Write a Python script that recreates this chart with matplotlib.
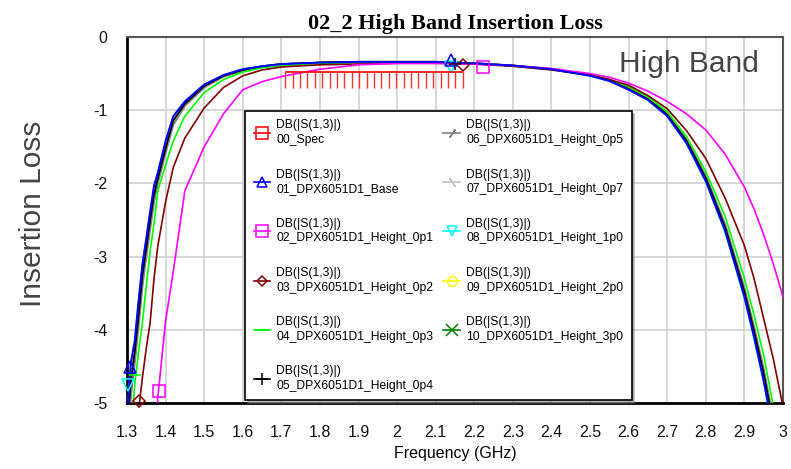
import matplotlib
matplotlib.use('Agg')
import matplotlib.pyplot as plt
from matplotlib.lines import Line2D
import numpy as np

# Frequency grid (GHz)
freq = [1.30, 1.31, 1.32, 1.33, 1.34, 1.35, 1.36, 1.37, 1.38, 1.40, 1.42, 1.45,
        1.50, 1.55, 1.60, 1.65, 1.70, 1.80, 1.90, 2.00, 2.10, 2.20, 2.30, 2.40,
        2.50, 2.55, 2.60, 2.65, 2.70, 2.75, 2.80, 2.85, 2.90, 2.925, 2.95, 2.975, 3.00]

# DB(|S(1,3)|) traces
ins_base = [-5.15, -4.45, -4.15, -3.60, -3.10, -2.75, -2.38, -2.03, -1.85, -1.42, -1.08, -0.88,
            -0.65, -0.52, -0.44, -0.40, -0.37, -0.35, -0.34, -0.34, -0.34, -0.36, -0.39, -0.44,
            -0.53, -0.60, -0.72, -0.86, -1.08, -1.45, -1.97, -2.65, -3.55, -4.10, -4.70, -5.40, -6.20]
ins_0p1 = [-9.0, -8.5, -8.0, -7.5, -7.0, -6.5, -6.0, -5.5, -4.92, -3.88, -3.20, -2.10,
           -1.50, -1.05, -0.72, -0.61, -0.54, -0.44, -0.38, -0.36, -0.36, -0.37, -0.39, -0.43,
           -0.50, -0.55, -0.63, -0.74, -0.88, -1.05, -1.27, -1.60, -2.05, -2.35, -2.70, -3.10, -3.55]
ins_0p2 = [-7.5, -6.8, -5.9, -5.1, -4.65, -4.25, -3.90, -3.30, -2.85, -2.25, -1.78, -1.38,
           -0.97, -0.69, -0.53, -0.45, -0.41, -0.38, -0.37, -0.36, -0.36, -0.37, -0.40, -0.45,
           -0.52, -0.58, -0.66, -0.80, -0.98, -1.28, -1.66, -2.20, -2.85, -3.30, -3.85, -4.40, -5.05]
ins_0p3 = [-6.0, -5.4, -4.75, -4.30, -3.90, -3.40, -2.92, -2.55, -2.10, -1.75, -1.42, -1.08,
           -0.76, -0.58, -0.48, -0.42, -0.39, -0.36, -0.35, -0.35, -0.35, -0.36, -0.39, -0.44,
           -0.52, -0.58, -0.68, -0.82, -1.02, -1.36, -1.84, -2.45, -3.30, -3.80, -4.35, -5.05, -5.80]
ins_0p4 = [-5.40, -4.70, -4.30, -3.80, -3.25, -2.88, -2.50, -2.15, -1.93, -1.52, -1.14, -0.91,
           -0.67, -0.53, -0.45, -0.40, -0.37, -0.35, -0.34, -0.34, -0.34, -0.36, -0.39, -0.44,
           -0.52, -0.59, -0.71, -0.85, -1.06, -1.42, -1.93, -2.60, -3.48, -4.02, -4.60, -5.30, -6.10]
ins_0p5 = [-5.60, -4.90, -4.45, -3.95, -3.40, -3.00, -2.62, -2.25, -2.00, -1.58, -1.20, -0.94,
           -0.69, -0.54, -0.46, -0.41, -0.38, -0.35, -0.34, -0.34, -0.34, -0.36, -0.39, -0.44,
           -0.52, -0.59, -0.70, -0.84, -1.05, -1.40, -1.90, -2.56, -3.43, -3.96, -4.54, -5.22, -6.00]
ins_0p7 = [-5.25, -4.55, -4.20, -3.70, -3.17, -2.80, -2.43, -2.08, -1.88, -1.48, -1.10, -0.89,
           -0.66, -0.52, -0.44, -0.40, -0.37, -0.35, -0.34, -0.34, -0.34, -0.36, -0.39, -0.44,
           -0.52, -0.60, -0.72, -0.86, -1.07, -1.44, -1.95, -2.63, -3.52, -4.06, -4.65, -5.35, -6.15]
ins_1p0 = [-5.20, -4.50, -4.18, -3.62, -3.12, -2.77, -2.40, -2.05, -1.86, -1.46, -1.09, -0.88,
           -0.65, -0.52, -0.44, -0.40, -0.37, -0.35, -0.34, -0.34, -0.34, -0.36, -0.39, -0.44,
           -0.53, -0.60, -0.72, -0.86, -1.08, -1.46, -1.98, -2.66, -3.57, -4.12, -4.72, -5.42, -6.22]
# 2p0 and 3p0 sit underneath the 0p4 trace
ins_2p0 = [-5.40, -4.70, -4.30, -3.80, -3.25, -2.88, -2.50, -2.15, -1.93, -1.52, -1.14, -0.91,
           -0.67, -0.53, -0.45, -0.40, -0.37, -0.35, -0.34, -0.34, -0.34, -0.36, -0.39, -0.44,
           -0.52, -0.59, -0.71, -0.85, -1.06, -1.42, -1.93, -2.60, -3.48, -4.02, -4.60, -5.30, -6.10]
ins_3p0 = [-5.40, -4.70, -4.30, -3.80, -3.25, -2.88, -2.50, -2.15, -1.93, -1.52, -1.14, -0.91,
           -0.67, -0.53, -0.45, -0.40, -0.37, -0.35, -0.34, -0.34, -0.34, -0.36, -0.39, -0.44,
           -0.52, -0.59, -0.71, -0.85, -1.06, -1.42, -1.93, -2.60, -3.48, -4.02, -4.60, -5.30, -6.10]

# Spec line: band edges and limit
spec_f = [1.71, 2.17]
spec_level = -0.48

# Single trace markers (f, dB) as seen on the chart
mk_base = ([1.308, 2.139], [-4.51, -0.31])
mk_0p1 = ([1.383, 2.223], [-4.83, -0.41])
mk_0p2 = ([1.332, 2.170], [-4.97, -0.38])
mk_0p3 = ([1.320], [-4.62])
mk_0p4 = ([2.150], [-0.37])
mk_1p0 = ([1.303, 2.139], [-4.75, -0.41])

names = ['00_Spec', '01_DPX6051D1_Base', '02_DPX6051D1_Height_0p1', '03_DPX6051D1_Height_0p2',
         '04_DPX6051D1_Height_0p3', '05_DPX6051D1_Height_0p4', '06_DPX6051D1_Height_0p5',
         '07_DPX6051D1_Height_0p7', '08_DPX6051D1_Height_1p0', '09_DPX6051D1_Height_2p0',
         '10_DPX6051D1_Height_3p0']

x_ticks = [1.3, 1.4, 1.5, 1.6, 1.7, 1.8, 1.9, 2.0, 2.1, 2.2, 2.3, 2.4, 2.5, 2.6, 2.7, 2.8, 2.9, 3.0]
x_ticklabels = ['1.3', '1.4', '1.5', '1.6', '1.7', '1.8', '1.9', '2', '2.1', '2.2', '2.3', '2.4',
                '2.5', '2.6', '2.7', '2.8', '2.9', '3']
y_ticks = [0, -1, -2, -3, -4, -5]

# trace styles: (data, color, marker, markers-on-plot, lw)
traces = [
    (ins_3p0, '#008000', 'x', None, 1.2),
    (ins_2p0, '#ffff00', 'o', None, 1.2),
    (ins_1p0, '#00ffff', 'v', mk_1p0, 1.2),
    (ins_0p7, '#c0c0c0', (2, 2, 35), None, 1.5),
    (ins_0p5, '#808080', (2, 2, -35), None, 1.5),
    (ins_0p4, '#000000', '+', mk_0p4, 1.3),
    (ins_0p3, '#00ff00', '_', mk_0p3, 1.2),
    (ins_0p2, '#800000', 'D', mk_0p2, 1.2),
    (ins_0p1, '#ff00ff', 's', mk_0p1, 1.2),
    (ins_base, '#0000ff', '^', mk_base, 1.4),
]

plt.rcParams['font.family'] = ['Liberation Sans', 'DejaVu Sans']
plt.rcParams['axes.unicode_minus'] = False

fig = plt.figure(figsize=(7.91, 4.69), dpi=100)
ax = fig.add_axes([127 / 791, 1 - 403 / 469, (783 - 127) / 791, (403 - 37) / 469])

ax.set_xlim(1.3, 3.0)
ax.set_ylim(-5, 0)
ax.grid(True, color='#d0d0d0', lw=1.2)
ax.set_axisbelow(True)

for data, col, mk, mpos, lw in traces:
    ax.plot(freq, data, color=col, lw=lw, zorder=3)
    if mpos is not None:
        ms = 6 if mk == 'D' else 9 if mk == 's' else 8
        ax.plot(mpos[0], mpos[1], ls='none', marker=mk, color=col, mfc='none',
                ms=ms, mew=1.1, zorder=4, clip_on=False)

# spec limit with hatch ticks
ax.hlines(spec_level, spec_f[0], spec_f[1], color='#ff0000', lw=1.2, zorder=5)
hatch_f = np.linspace(spec_f[0], spec_f[1], 25)
ax.vlines(hatch_f, spec_level - 0.21, spec_level, color='#ff3030', lw=1.0, zorder=5)

ax.set_xticks(x_ticks)
ax.set_xticklabels(x_ticklabels)
ax.set_yticks(y_ticks)
ax.tick_params(axis='both', length=0, labelsize=11.5, colors='#111111')
ax.tick_params(axis='x', pad=16)
ax.tick_params(axis='y', pad=14)

for side in ['left', 'bottom']:
    ax.spines[side].set_linewidth(2)
    ax.spines[side].set_color('#000000')
for side in ['top', 'right']:
    ax.spines[side].set_linewidth(1.5)
    ax.spines[side].set_color('#555555')

ax.set_title('02_2 High Band Insertion Loss', family='Liberation Serif', weight='bold',
             fontsize=16, pad=6)
ax.set_xlabel('Frequency (GHz)', fontsize=11.5, labelpad=4)
ax.set_ylabel('Insertion Loss', fontsize=21.5, color='#444444')
ax.yaxis.set_label_coords(-0.122, 0.516)
ax.text(0.963, 0.925, 'High Band', transform=ax.transAxes, ha='right', va='center',
        fontsize=21.5, color='#444444')

# legend handles
leg_styles = [('#ff0000', 's'), ('#0000ff', '^'), ('#ff00ff', 's'), ('#800000', 'D'),
              ('#00ff00', '_'), ('#000000', '+'), ('#808080', (2, 2, -35)),
              ('#c0c0c0', (2, 2, 35)), ('#00ffff', 'v'), ('#ffff00', 'o'), ('#008000', 'x')]
handles = []
for col, mk in leg_styles:
    ms = 5 if mk == 'D' else 8 if mk in ['s', '_', '+', 'x'] else 7
    handles.append(Line2D([], [], color=col, marker=mk, mfc='none', ms=ms, lw=1.2, mew=1.1))
labels = ['DB(|S(1,3)|)\n' + n for n in names]

leg = ax.legend(handles, labels, ncol=2, loc='upper left', bbox_to_anchor=(0.18, 0.798),
                fontsize=8.7, frameon=True, fancybox=False, shadow={'color': '#808080'},
                edgecolor='#000000', framealpha=1, handlelength=1.4, handletextpad=0.5,
                columnspacing=0.8, labelspacing=1.86, borderpad=0.7, borderaxespad=0)
for t in leg.get_texts():
    t.set_linespacing(1.3)
leg.get_frame().set_linewidth(1.2)
leg.set_zorder(10)

fig.savefig('out.png', dpi=100)
